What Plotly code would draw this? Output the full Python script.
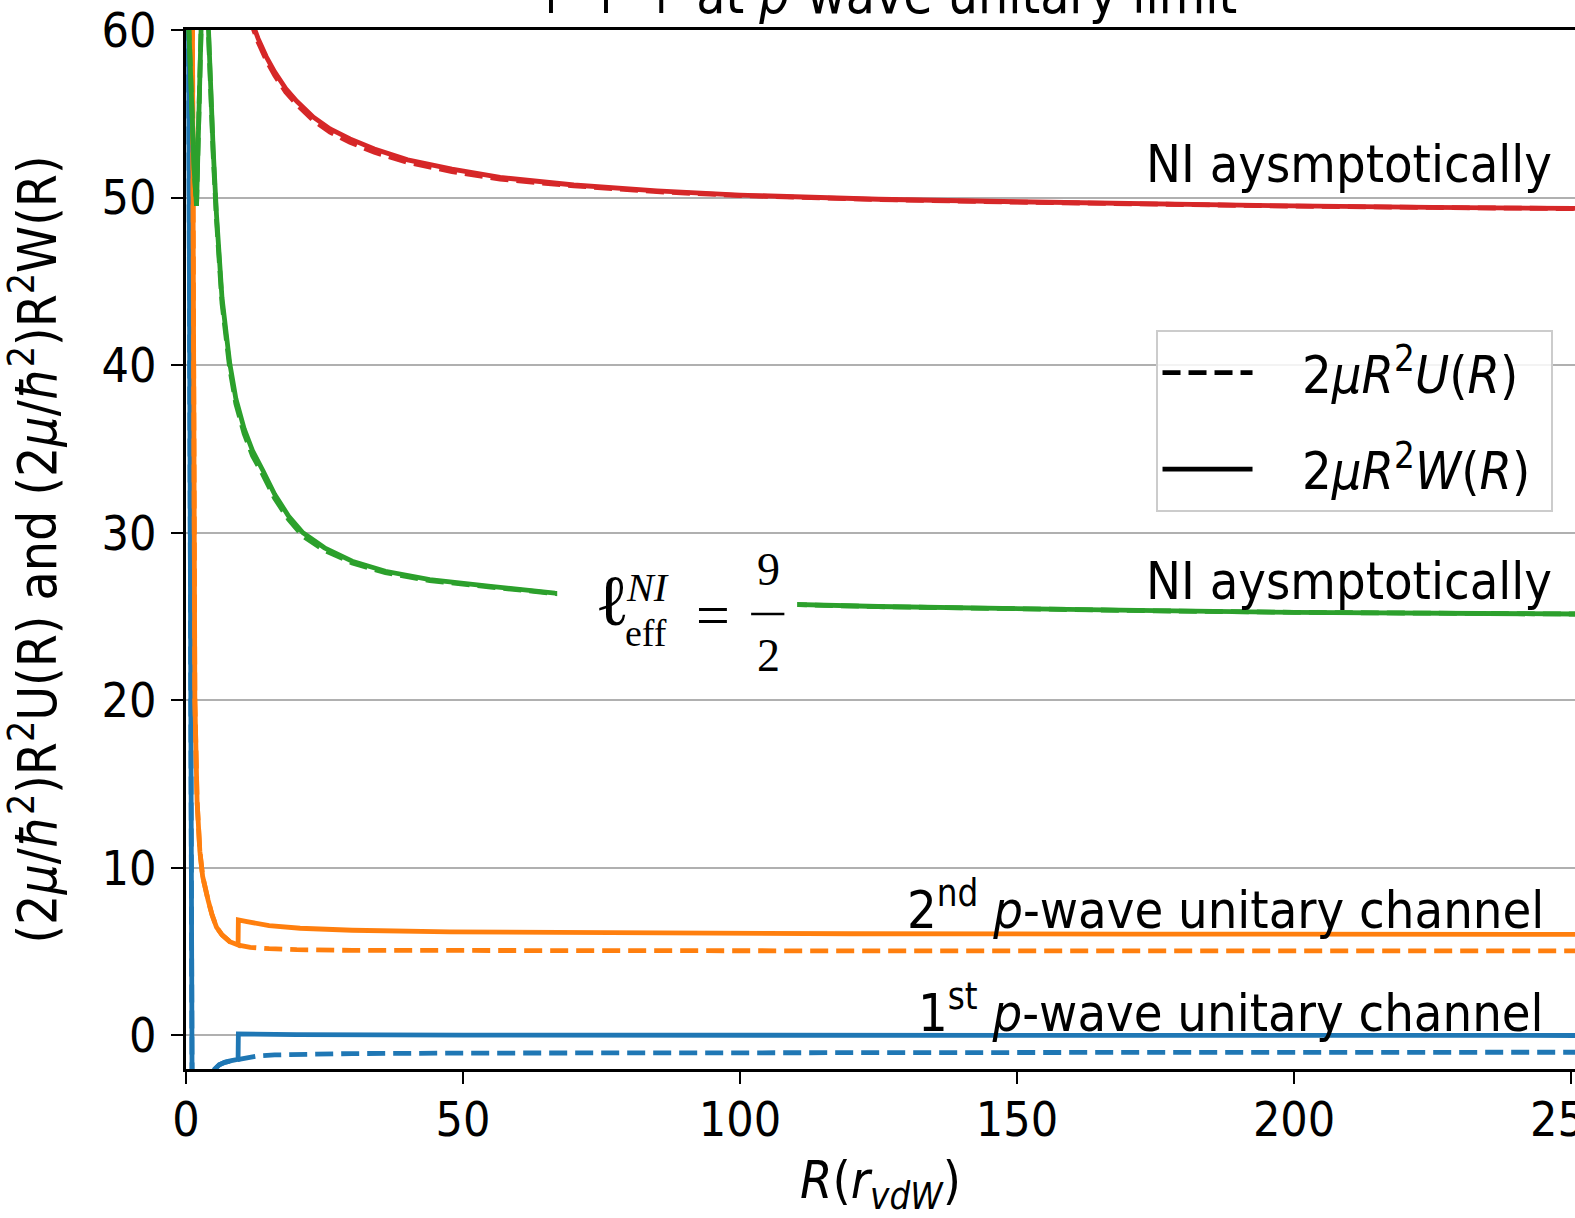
import plotly.graph_objects as go

# ---- data: effective potentials for the four lowest channels ----
# red channel (NI asymptotically, upper)
R_red = [11.5, 12, 13, 14.5, 16, 18, 20, 23, 26, 29.6, 34, 40, 48, 56.7, 70, 85, 100, 125, 150, 175, 200, 225, 250.7]
W_red = [61.0, 60.4, 59.5, 58.4, 57.5, 56.5, 55.75, 54.8, 54.1, 53.5, 52.9, 52.25, 51.7, 51.2, 50.75, 50.4, 50.15, 49.9, 49.75, 49.6, 49.5, 49.42, 49.35]
U_red = [60.8, 60.2, 59.3, 58.2, 57.3, 56.3, 55.55, 54.6, 53.9, 53.3, 52.7, 52.1, 51.55, 51.1, 50.7, 50.35, 50.12, 49.88, 49.73, 49.59, 49.49, 49.41, 49.34]

# green channel (NI asymptotically, l_eff = 9/2)
R_green = [0.3, 1.0, 1.5, 1.9, 2.5, 3.1, 3.5, 4.0, 4.5, 4.9, 5.5, 6.5, 7.9, 9.0, 10.5, 12, 13.9, 16, 18.5, 21.1, 25, 30, 36, 44, 55, 66.6, 80, 100, 125, 150, 175, 200, 225, 250.7]
W_green = [62, 55, 51.5, 49.5, 56, 62, 70, 60.5, 56, 52.9, 49, 44, 40.1, 38, 36.2, 34.9, 33.7, 32.3, 31.0, 30.0, 29.1, 28.3, 27.7, 27.2, 26.8, 26.4, 26.15, 25.8, 25.6, 25.45, 25.35, 25.25, 25.2, 25.15]
U_green = [62, 55, 51.5, 49.5, 56, 62, 70, 60.3, 55.7, 52.6, 48.7, 43.7, 39.8, 37.7, 35.9, 34.6, 33.45, 32.05, 30.8, 29.8, 28.95, 28.2, 27.62, 27.14, 26.76, 26.37, 26.13, 25.79, 25.59, 25.44, 25.34, 25.25, 25.2, 25.15]

# orange channel (2nd p-wave unitary channel)
R_orange_U = [1.15, 1.26, 1.4, 1.6, 2.0, 2.5, 3.0, 3.5, 4.0, 4.7, 5.5, 6.5, 7.9, 9.4, 11.6, 15, 20, 30, 50, 80, 120, 170, 250.7]
U_orange = [62, 49.5, 30, 20, 14, 11.0, 9.5, 8.7, 8.06, 7.2, 6.47, 6.0, 5.6, 5.4, 5.26, 5.18, 5.12, 5.08, 5.06, 5.05, 5.05, 5.05, 5.05]
R_orange_W = [1.15, 1.26, 1.4, 1.6, 2.0, 2.5, 3.0, 3.5, 4.0, 4.7, 5.5, 6.5, 7.9, 9.4, 9.45, 11, 15, 20.6, 30, 47.6, 80, 120, 170, 250.7]
W_orange = [62, 49.5, 30, 20, 14, 11.0, 9.5, 8.7, 8.06, 7.2, 6.47, 6.0, 5.6, 5.4, 6.9, 6.8, 6.55, 6.4, 6.28, 6.18, 6.1, 6.07, 6.05, 6.03]

# blue channel (1st p-wave unitary channel)
R_blue_U = [0.45, 0.6, 0.75, 0.9, 1.1, 3.0, 4.5, 5.2, 6.0, 7.0, 8.2, 9.4, 11, 13, 16, 20, 30, 50, 80, 120, 170, 250.7]
U_blue = [62, 40, 20, 5, -3, -4, -2.6, -2.0, -1.75, -1.6, -1.5, -1.42, -1.3, -1.22, -1.16, -1.12, -1.08, -1.05, -1.03, -1.02, -1.01, -1.0]
R_blue_W = [0.45, 0.6, 0.75, 0.9, 1.1, 3.0, 4.5, 5.2, 6.0, 7.0, 8.2, 9.4, 9.45, 12, 20, 50, 120, 250.7]
W_blue = [62, 40, 20, 5, -3, -4, -2.6, -2.0, -1.75, -1.6, -1.5, -1.42, 0.1, 0.08, 0.05, 0.02, 0.01, 0.0]

x_ticks = [0, 50, 100, 150, 200, 250]
y_ticks = [0, 10, 20, 30, 40, 50, 60]

BLUE, ORANGE, GREEN, RED = "#1f77b4", "#ff7f0e", "#2ca02c", "#d62728"
FONT = "DejaVu Sans Condensed, DejaVu Sans, sans-serif"
SERIF = "Liberation Serif, DejaVu Serif, serif"
LW = 4.8
DASH = "18px,8px"
GAP = "\u00a0\u00a0\u00a0"

fig = go.Figure()

series = [
    (R_blue_U, U_blue, R_blue_W, W_blue, BLUE),
    (R_orange_U, U_orange, R_orange_W, W_orange, ORANGE),
    (R_green, U_green, R_green, W_green, GREEN),
    (R_red, U_red, R_red, W_red, RED),
]
for ru, u, rw, w, col in series:
    fig.add_trace(go.Scatter(x=ru, y=u, mode="lines", showlegend=False,
                             line=dict(color=col, width=LW, dash=DASH)))
    fig.add_trace(go.Scatter(x=rw, y=w, mode="lines", showlegend=False,
                             line=dict(color=col, width=LW)))

# legend keys
fig.add_trace(go.Scatter(x=[None], y=[None], mode="lines", legendgroup="u",
                         name=GAP + "2<i>μR</i><sup>2</sup><i>U</i>(<i>R</i>)",
                         line=dict(color="black", width=LW, dash=DASH)))
fig.add_trace(go.Scatter(x=[None], y=[None], mode="lines", legendgroup="w",
                         name=GAP + "2<i>μR</i><sup>2</sup><i>W</i>(<i>R</i>)" + "\u00a0",
                         line=dict(color="black", width=LW)))

annotations = []

def label(text, x, y, size=52, font=FONT, xanchor="right", yanchor="middle", **kw):
    annotations.append(dict(text=text, x=x, y=y, xref="x", yref="y", showarrow=False,
                            xanchor=xanchor, yanchor=yanchor, borderpad=0,
                            font=dict(family=font, size=size, color="black"), **kw))

label("NI aysmptotically", 246.7, 52.0)
label("NI aysmptotically", 246.7, 27.1)
label("2<sup>nd</sup> <i>p</i>-wave unitary channel", 245.3, 7.7)
label("1<sup>st</sup> <i>p</i>-wave unitary channel", 245.3, 1.6)

# effective angular momentum label over a white box
label("ℓ", 77.0, 25.9, size=72, font=SERIF, xanchor="center")
label("<i>NI</i>", 79.3, 26.75, size=40, font=SERIF, xanchor="left")
label("eff", 79.0, 24.0, size=38, font=SERIF, xanchor="left")
label("=", 95.1, 25.1, size=60, font=SERIF, xanchor="center")
label("9", 105.1, 27.8, size=46, font=SERIF, xanchor="center")
label("2", 105.1, 22.7, size=46, font=SERIF, xanchor="center")

# title line (runs off the top edge)
annotations.append(dict(text="↑ ↑ ↑ at <i>p</i>-wave unitary limit", x=0.2477, y=1.0,
                        xref="paper", yref="paper", xanchor="left", yanchor="bottom",
                        yshift=4, showarrow=False, borderpad=0,
                        font=dict(family=FONT, size=53, color="black")))

shapes = [
    dict(type="rect", xref="x", yref="y", x0=67.0, x1=110.3, y0=21.0, y1=29.3,
         fillcolor="white", line=dict(width=0), layer="above"),
    dict(type="line", xref="x", yref="y", x0=102.0, x1=108.0, y0=25.15, y1=25.15,
         line=dict(color="black", width=2.5), layer="above"),
]

fig.update_layout(
    width=1575, height=1218,
    margin=dict(l=186, r=0, t=30, b=149, autoexpand=False),
    plot_bgcolor="white", paper_bgcolor="white",
    font=dict(family=FONT, size=48, color="black"),
    annotations=annotations,
    shapes=shapes,
    showlegend=True,
    legend=dict(x=0.698, y=0.711, xanchor="left", yanchor="top",
                bgcolor="rgba(255,255,255,0.85)", bordercolor="#cccccc", borderwidth=2,
                font=dict(family=FONT, size=52), itemwidth=90, tracegroupgap=26,
                traceorder="grouped"),
)

fig.update_xaxes(range=[0, 250.7], tickvals=x_ticks, ticks="outside", ticklen=12, tickwidth=2,
                 tickcolor="black", showline=True, linecolor="black", linewidth=3, mirror=True,
                 showgrid=False, zeroline=False, ticklabeloverflow="allow", automargin=False,
                 ticklabelstandoff=-6,
                 tickfont=dict(family=FONT, size=48),
                 title=dict(text="<i>R</i>(<i>r</i><sub><i>vdW</i></sub>)",
                            font=dict(family=FONT, size=52), standoff=24))
fig.update_yaxes(range=[-2, 60], tickvals=y_ticks, ticks="outside", ticklen=12, tickwidth=2,
                 tickcolor="black", showline=True, linecolor="black", linewidth=3, mirror=False,
                 showgrid=True, gridcolor="#b0b0b0", gridwidth=2, zeroline=False,
                 ticklabelstandoff=5, automargin=False,
                 tickfont=dict(family=FONT, size=48),
                 title=dict(text="(2<i>μ</i>/<i>ħ</i><sup>2</sup>)R<sup>2</sup>U(R) and (2<i>μ</i>/<i>ħ</i><sup>2</sup>)R<sup>2</sup>W(R)",
                            font=dict(family=FONT, size=53), standoff=30))

fig.write_html("out.html")
